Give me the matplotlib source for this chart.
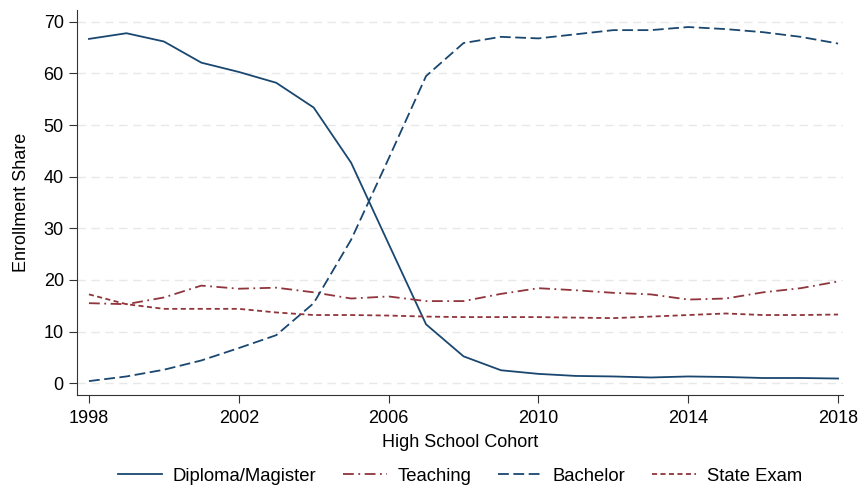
import numpy as np
import matplotlib.pyplot as plt

plt.rcParams['font.family'] = ['Liberation Sans', 'DejaVu Sans']

# --- Enrollment shares by high school cohort ---
years = np.arange(1998, 2019)
diploma = [66.7, 67.8, 66.2, 62.1, 60.3, 58.2, 53.4, 42.7, 27.0, 11.4, 5.2,
           2.5, 1.8, 1.4, 1.3, 1.1, 1.3, 1.2, 1.0, 1.0, 0.9]
teaching = [15.5, 15.3, 16.6, 18.9, 18.3, 18.5, 17.6, 16.4, 16.8, 15.9, 15.9,
            17.3, 18.4, 18.0, 17.5, 17.2, 16.2, 16.4, 17.6, 18.4, 19.7]
bachelor = [0.4, 1.3, 2.6, 4.4, 6.8, 9.3, 15.5, 27.8, 43.5, 59.5, 65.9,
            67.1, 66.8, 67.6, 68.4, 68.4, 69.0, 68.6, 68.0, 67.1, 65.8]
state_exam = [17.2, 15.3, 14.4, 14.4, 14.4, 13.7, 13.2, 13.2, 13.1, 12.9, 12.8,
              12.8, 12.8, 12.7, 12.6, 12.9, 13.2, 13.5, 13.2, 13.2, 13.3]

navy = '#1a476f'
maroon = '#90353b'

fig = plt.figure(figsize=(8.61, 4.88), dpi=100)
ax = fig.add_axes([0.0894, 0.1905, 0.8896, 0.789])

ax.plot(years, diploma, color=navy, lw=1.3, ls='-', label='Diploma/Magister')
ax.plot(years, teaching, color=maroon, lw=1.3, ls=(0, (6, 2.5, 1, 2.5)), label='Teaching')
ax.plot(years, bachelor, color=navy, lw=1.3, ls=(0, (6, 2.5)), label='Bachelor')
ax.plot(years, state_exam, color=maroon, lw=1.3, ls=(0, (2.8, 1.9)), label='State Exam')

ax.set_xlim(1997.68, 2018.13)
ax.set_ylim(-2.3, 72.3)
ax.set_xticks(np.arange(1998, 2019, 4))
ax.set_yticks(np.arange(0, 71, 10))
ax.tick_params(labelsize=13, length=5.5, width=0.8, color='#333333', pad=4)
ax.tick_params(axis='x', pad=5)

ax.yaxis.grid(True, color='#e8e8e8', ls=(0, (6, 4)), lw=1)
ax.set_axisbelow(True)
for side in ['top', 'right']:
    ax.spines[side].set_visible(False)
for side in ['left', 'bottom']:
    ax.spines[side].set_color('#333333')
    ax.spines[side].set_linewidth(0.8)

ax.set_xlabel('High School Cohort', fontsize=13, labelpad=5)
ax.set_ylabel('Enrollment Share', fontsize=13, labelpad=10)

# legend under the plot, centred on the axes (figure coords)
fig.legend(loc='center', bbox_to_anchor=(0.5342, 0.024), ncol=4, frameon=False,
           fontsize=13.3, handlelength=2.4, handletextpad=0.55, columnspacing=1.45,
           borderpad=0)

fig.savefig('out.png', dpi=100)
